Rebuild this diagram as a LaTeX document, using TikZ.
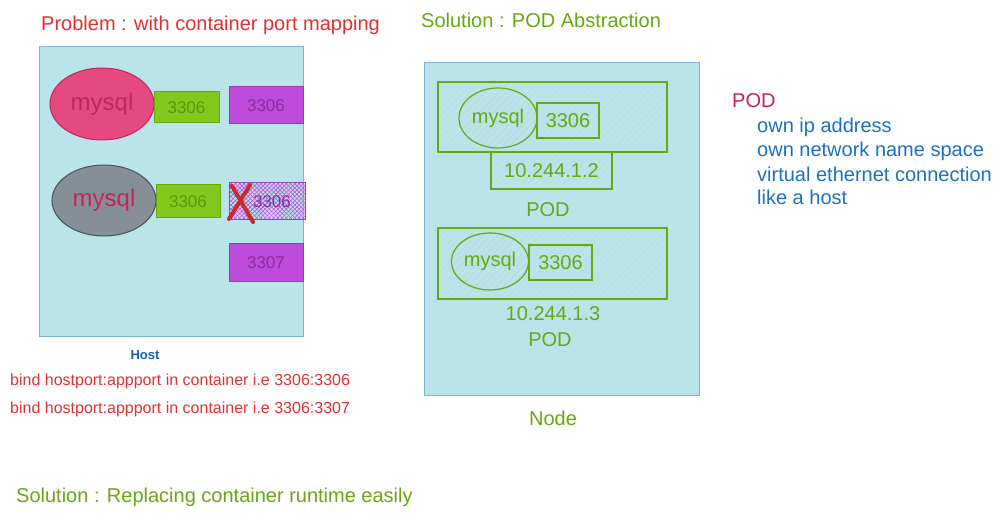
\documentclass[tikz,border=0pt]{standalone}
\usepackage{fontspec}
\setmainfont{Liberation Sans}
\usetikzlibrary{shapes.geometric,patterns.meta}
\definecolor{bgblue}{HTML}{B9E4EA}
\definecolor{bordblue}{HTML}{7FB3D5}
\definecolor{pinkfill}{HTML}{E64980}
\definecolor{pinkdraw}{HTML}{C2255C}
\definecolor{grayfill}{HTML}{868E96}
\definecolor{graydraw}{HTML}{495057}
\definecolor{grnfill}{HTML}{82C91E}
\definecolor{grndraw}{HTML}{66A80F}
\definecolor{grntext}{HTML}{5C940D}
\definecolor{purfill}{HTML}{BE4BDB}
\definecolor{purdraw}{HTML}{9C36B5}
\definecolor{purtext}{HTML}{862E9C}
\definecolor{xred}{HTML}{C92A2A}
\definecolor{titlered}{HTML}{E03131}
\definecolor{textblue}{HTML}{1971C2}
\definecolor{hostblue}{HTML}{1864AB}
\definecolor{hatchgray}{HTML}{C6D6D9}
\tikzset{
  hostbox/.style={draw=bordblue, fill=bgblue, line width=1pt, minimum width=#1, inner sep=0pt, outer sep=0pt},
  mybox/.style 2 args={rectangle, minimum width=#1, minimum height=#2, inner sep=0pt, outer sep=0pt},
  ell/.style 2 args={ellipse, minimum width=#1, minimum height=#2, inner sep=0pt, outer sep=0pt},
  hand/.style={font=\fontsize{17}{17}\selectfont},
  lbl/.style={font=\fontsize{20}{22}\selectfont, inner sep=0pt},
  small/.style={font=\fontsize{16}{18}\selectfont, inner sep=0pt, text=titlered, anchor=west},
  greenbox/.style={draw=grndraw, fill=grnfill, line width=1pt, text=grntext, hand},
  purplebox/.style={draw=purdraw, fill=purfill, line width=1pt, text=purtext, hand},
  podbox/.style={draw=grndraw, line width=1.2pt, pattern={Lines[angle=45,distance=5pt,line width=0.5pt]}, pattern color=hatchgray, text=grndraw, lbl},
}
\begin{document}
\begin{tikzpicture}[x=1pt,y=-1pt]
\useasboundingbox (0,0) rectangle (1002,521);
\fill[white] (0,0) rectangle (1002,521);

% ---------- left: problem ----------
\node[lbl, anchor=west, text=titlered] (probtitle) at (41,25) {Problem : with container port mapping};
\node[mybox={264pt}{290pt}, draw=bordblue, fill=bgblue, line width=1pt] (host) at (171,192) {};

\node[ell={104pt}{72pt}, draw=pinkdraw, fill=pinkfill, line width=1pt, text=pinkdraw, font=\fontsize{24}{24}\selectfont] (mysqlA) at (102,104) {mysql};
\node[mybox={65pt}{31pt}, greenbox] (gA) at (186.5,107.5) {3306};
\node[mybox={74pt}{37pt}, purplebox] (pA) at (266,105.5) {3306};

\node[ell={104pt}{71pt}, draw=graydraw, fill=grayfill, line width=1pt, text=pinkdraw, font=\fontsize{24}{24}\selectfont] (mysqlB) at (104,200.5) {mysql};
\node[mybox={64pt}{33pt}, greenbox] (gB) at (188,201.5) {3306};
\node[mybox={76pt}{37pt}, draw=purdraw, line width=1pt, pattern={Lines[angle=45,distance=3pt,line width=0.6pt]}, pattern color=purfill] (pB) at (267,201.5) {};
\fill[pattern={Lines[angle=-45,distance=3pt,line width=0.6pt]}, pattern color=purfill] (pB.south west) rectangle (pB.north east);
\node[text=purtext, hand, inner sep=0pt] (pBt) at (272,201.5) {3306};
\coordinate (x1a) at (232,186); \coordinate (x1b) at (253,222);
\coordinate (x2a) at (250,185); \coordinate (x2b) at (229,219);
\draw[xred, line width=4pt, line cap=round] (x1a) -- (x1b);
\draw[xred, line width=4pt, line cap=round] (x2a) -- (x2b);
\node[mybox={74pt}{38pt}, purplebox] (pC) at (266,263) {3307};

\node[text=hostblue, font=\bfseries\fontsize{13}{13}\selectfont, inner sep=0pt] (hostlbl) at (145,355) {Host};
\node[small] (bind1) at (10,381) {bind hostport:appport in container i.e 3306:3306};
\node[small] (bind2) at (10,409) {bind hostport:appport in container i.e 3306:3307};

% ---------- middle: solution ----------
\node[lbl, anchor=west, text=grndraw] (soltitle) at (421,20) {Solution : POD Abstraction};
\node[mybox={275pt}{333pt}, draw=bordblue, fill=bgblue, line width=1pt] (nodebox) at (561.5,229.5) {};

\node[mybox={229pt}{70pt}, podbox] (pod1) at (552.5,117) {};
\node[ell={78pt}{60pt}, podbox] (e1) at (498,118) {mysql};
\node[mybox={62pt}{35pt}, draw=grndraw, line width=1.2pt, text=grndraw, lbl] (b1) at (568,120.5) {3306};
\node[mybox={121pt}{37pt}, podbox] (ip1) at (551.5,170.5) {10.244.1.2};
\node[lbl, text=grndraw] (pod1lbl) at (548,210) {POD};

\node[mybox={229pt}{71pt}, podbox] (pod2) at (552.5,263.5) {};
\node[ell={77pt}{57pt}, podbox] (e2) at (490,261.5) {mysql};
\node[mybox={63pt}{35pt}, draw=grndraw, line width=1.2pt, text=grndraw, lbl] (b2) at (560.5,262.5) {3306};
\node[lbl, text=grndraw] (ip2) at (553,314) {10.244.1.3};
\node[lbl, text=grndraw] (pod2lbl) at (550,340) {POD};
\node[lbl, text=grndraw] (nodelbl) at (553,418) {Node};

% ---------- right: notes ----------
\node[lbl, anchor=west, text=pinkdraw] (podhead) at (732,101) {POD};
\node[lbl, anchor=west, text=textblue] (n1) at (757,127) {own ip address};
\node[lbl, anchor=west, text=textblue] (n2) at (757,151) {own network name space};
\node[lbl, anchor=west, text=textblue] (n3) at (757,174) {virtual ethernet connection};
\node[lbl, anchor=west, text=textblue] (n4) at (757,197) {like a host};

\node[lbl, anchor=west, text=grndraw] (sol2) at (16,497) {Solution : Replacing container runtime easily};
\end{tikzpicture}
\end{document}
